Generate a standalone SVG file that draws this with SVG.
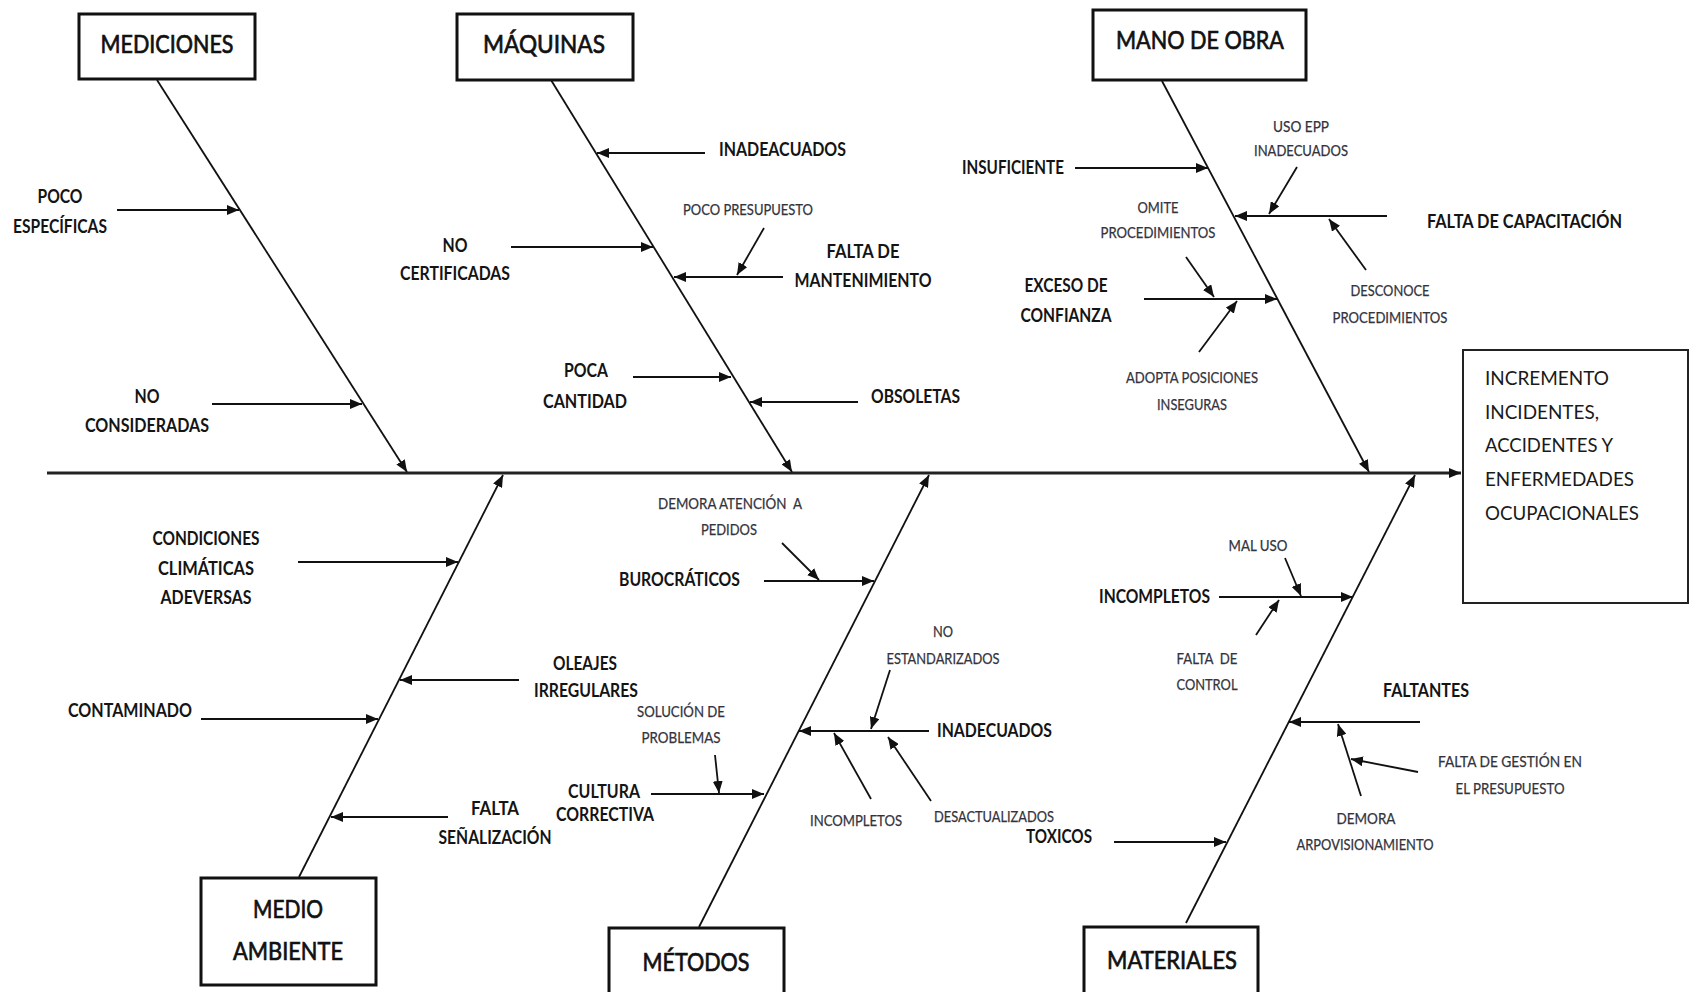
<svg xmlns="http://www.w3.org/2000/svg" width="1696" height="992" viewBox="0 0 1696 992">
  <defs>
    <marker id="arrow" viewBox="0 0 12 10" refX="12" refY="5" markerWidth="12" markerHeight="10" markerUnits="userSpaceOnUse" orient="auto">
      <path d="M0,0 L12,5 L0,10 z" fill="#111"/>
    </marker>
    <style>
      .box { fill: #fff; stroke: #111; stroke-width: 3; }
      .effect-box { fill: #fff; stroke: #222; stroke-width: 2; }
      .spine { stroke: #222; stroke-width: 3; fill: none; }
      .bone { stroke: #111; stroke-width: 1.8; fill: none; }
      .cause { stroke: #111; stroke-width: 2.2; fill: none; }
      .sub { stroke: #111; stroke-width: 1.8; fill: none; }
      .title { font-family: Lato, "Liberation Sans", sans-serif; font-size: 25px; fill: #111; stroke: #111; stroke-width: 0.7; text-anchor: middle; }
      .effect { font-family: Lato, "Liberation Sans", sans-serif; font-size: 19px; fill: #1a1a1a; }
      .lbl { font-family: Lato, "Liberation Sans", sans-serif; font-size: 19px; font-weight: bold; fill: #141414; }
      .sm { font-family: Lato, "Liberation Sans", sans-serif; font-size: 15px; fill: #33333d; stroke: #33333d; stroke-width: 0.25; }
      .mid { text-anchor: middle; }
    </style>
  </defs>

  <rect width="1696" height="992" fill="#fff"/>

  <!-- connectors: spine, category bones, cause and sub-cause arrows -->
  <g id="connectors">
    <line class="spine" x1="47" y1="473" x2="1461" y2="473" marker-end="url(#arrow)"/>

    <line class="bone" x1="157" y1="80" x2="407" y2="472" marker-end="url(#arrow)"/>
    <line class="bone" x1="551" y1="80" x2="792" y2="472" marker-end="url(#arrow)"/>
    <line class="bone" x1="1162" y1="81" x2="1369" y2="472" marker-end="url(#arrow)"/>
    <line class="bone" x1="299" y1="877" x2="503" y2="475" marker-end="url(#arrow)"/>
    <line class="bone" x1="699" y1="927" x2="929" y2="475" marker-end="url(#arrow)"/>
    <line class="bone" x1="1186" y1="923" x2="1415" y2="475" marker-end="url(#arrow)"/>

    <!-- MEDICIONES -->
    <line class="cause" x1="117" y1="210" x2="239" y2="210" marker-end="url(#arrow)"/>
    <line class="cause" x1="212" y1="404" x2="362" y2="404" marker-end="url(#arrow)"/>

    <!-- MÁQUINAS -->
    <line class="cause" x1="705" y1="153" x2="597" y2="153" marker-end="url(#arrow)"/>
    <line class="cause" x1="511" y1="247" x2="653" y2="247" marker-end="url(#arrow)"/>
    <line class="cause" x1="783" y1="277" x2="674" y2="277" marker-end="url(#arrow)"/>
    <line class="sub" x1="764" y1="228" x2="737" y2="275" marker-end="url(#arrow)"/>
    <line class="cause" x1="633" y1="377" x2="731" y2="377" marker-end="url(#arrow)"/>
    <line class="cause" x1="858" y1="402" x2="750" y2="402" marker-end="url(#arrow)"/>

    <!-- MANO DE OBRA -->
    <line class="cause" x1="1075" y1="168" x2="1208" y2="168" marker-end="url(#arrow)"/>
    <line class="cause" x1="1387" y1="216" x2="1235" y2="216" marker-end="url(#arrow)"/>
    <line class="sub" x1="1297" y1="167" x2="1269" y2="214" marker-end="url(#arrow)"/>
    <line class="sub" x1="1366" y1="270" x2="1329" y2="219" marker-end="url(#arrow)"/>
    <line class="cause" x1="1144" y1="299" x2="1277" y2="299" marker-end="url(#arrow)"/>
    <line class="sub" x1="1186" y1="257" x2="1214" y2="297" marker-end="url(#arrow)"/>
    <line class="sub" x1="1199" y1="352" x2="1237" y2="301" marker-end="url(#arrow)"/>

    <!-- MEDIO AMBIENTE -->
    <line class="cause" x1="298" y1="562" x2="458" y2="562" marker-end="url(#arrow)"/>
    <line class="cause" x1="519" y1="680" x2="400" y2="680" marker-end="url(#arrow)"/>
    <line class="cause" x1="201" y1="719" x2="378" y2="719" marker-end="url(#arrow)"/>
    <line class="cause" x1="448" y1="817" x2="331" y2="817" marker-end="url(#arrow)"/>

    <!-- MÉTODOS -->
    <line class="cause" x1="764" y1="581" x2="874" y2="581" marker-end="url(#arrow)"/>
    <line class="sub" x1="782" y1="543" x2="819" y2="580" marker-end="url(#arrow)"/>
    <line class="cause" x1="929" y1="731" x2="799" y2="731" marker-end="url(#arrow)"/>
    <line class="sub" x1="890" y1="670" x2="871" y2="729" marker-end="url(#arrow)"/>
    <line class="sub" x1="871" y1="799" x2="834" y2="733" marker-end="url(#arrow)"/>
    <line class="sub" x1="931" y1="801" x2="888" y2="737" marker-end="url(#arrow)"/>
    <line class="cause" x1="651" y1="794" x2="764" y2="794" marker-end="url(#arrow)"/>
    <line class="sub" x1="715" y1="755" x2="719" y2="793" marker-end="url(#arrow)"/>

    <!-- MATERIALES -->
    <line class="cause" x1="1219" y1="597" x2="1353" y2="597" marker-end="url(#arrow)"/>
    <line class="sub" x1="1285" y1="558" x2="1301" y2="596" marker-end="url(#arrow)"/>
    <line class="sub" x1="1256" y1="635" x2="1279" y2="600" marker-end="url(#arrow)"/>
    <line class="cause" x1="1420" y1="722" x2="1289" y2="722" marker-end="url(#arrow)"/>
    <line class="sub" x1="1361" y1="796" x2="1338" y2="724" marker-end="url(#arrow)"/>
    <line class="sub" x1="1418" y1="772" x2="1351" y2="759" marker-end="url(#arrow)"/>
    <line class="cause" x1="1114" y1="842" x2="1226" y2="842" marker-end="url(#arrow)"/>
  </g>

  <!-- category nodes -->
  <g id="mediciones">
    <rect class="box" x="79" y="14" width="176" height="65"/>
    <text class="title" x="167" y="53" textLength="133" lengthAdjust="spacingAndGlyphs">MEDICIONES</text>
  </g>
  <g id="maquinas">
    <rect class="box" x="457" y="14" width="176" height="66"/>
    <text class="title" x="544" y="53" textLength="122" lengthAdjust="spacingAndGlyphs">MÁQUINAS</text>
  </g>
  <g id="mano-de-obra">
    <rect class="box" x="1093" y="10" width="213" height="70"/>
    <text class="title" x="1200" y="49" textLength="168" lengthAdjust="spacingAndGlyphs">MANO DE OBRA</text>
  </g>
  <g id="medio-ambiente">
    <rect class="box" x="201" y="878" width="175" height="107"/>
    <text class="title" x="288" y="918" textLength="70" lengthAdjust="spacingAndGlyphs">MEDIO</text>
    <text class="title" x="288" y="960" textLength="110" lengthAdjust="spacingAndGlyphs">AMBIENTE</text>
  </g>
  <g id="metodos">
    <rect class="box" x="609" y="928" width="175" height="80"/>
    <text class="title" x="696" y="971" textLength="107" lengthAdjust="spacingAndGlyphs">MÉTODOS</text>
  </g>
  <g id="materiales">
    <rect class="box" x="1084" y="927" width="174" height="80"/>
    <text class="title" x="1172" y="969" textLength="130" lengthAdjust="spacingAndGlyphs">MATERIALES</text>
  </g>

  <!-- effect node -->
  <g id="efecto">
    <rect class="effect-box" x="1463" y="350" width="225" height="253"/>
    <text class="effect" x="1485" y="385" textLength="124" lengthAdjust="spacingAndGlyphs">INCREMENTO</text>
    <text class="effect" x="1485" y="419" textLength="114" lengthAdjust="spacingAndGlyphs">INCIDENTES,</text>
    <text class="effect" x="1485" y="452" textLength="128" lengthAdjust="spacingAndGlyphs">ACCIDENTES Y</text>
    <text class="effect" x="1485" y="486" textLength="149" lengthAdjust="spacingAndGlyphs">ENFERMEDADES</text>
    <text class="effect" x="1485" y="520" textLength="154" lengthAdjust="spacingAndGlyphs">OCUPACIONALES</text>
  </g>

  <!-- causes: MEDICIONES -->
  <g id="causas-mediciones">
    <text class="lbl mid" x="60" y="203" textLength="45" lengthAdjust="spacingAndGlyphs">POCO</text>
    <text class="lbl mid" x="60" y="233" textLength="94" lengthAdjust="spacingAndGlyphs">ESPECÍFICAS</text>
    <text class="lbl mid" x="147" y="403" textLength="25" lengthAdjust="spacingAndGlyphs">NO</text>
    <text class="lbl mid" x="147" y="432" textLength="124" lengthAdjust="spacingAndGlyphs">CONSIDERADAS</text>
  </g>

  <!-- causes: MÁQUINAS -->
  <g id="causas-maquinas">
    <text class="lbl" x="719" y="156" textLength="127" lengthAdjust="spacingAndGlyphs">INADEACUADOS</text>
    <text class="sm" x="683" y="215" textLength="130" lengthAdjust="spacingAndGlyphs">POCO PRESUPUESTO</text>
    <text class="lbl mid" x="455" y="252" textLength="25" lengthAdjust="spacingAndGlyphs">NO</text>
    <text class="lbl mid" x="455" y="280" textLength="110" lengthAdjust="spacingAndGlyphs">CERTIFICADAS</text>
    <text class="lbl mid" x="863" y="258" textLength="73" lengthAdjust="spacingAndGlyphs">FALTA DE</text>
    <text class="lbl mid" x="863" y="287" textLength="137" lengthAdjust="spacingAndGlyphs">MANTENIMIENTO</text>
    <text class="lbl mid" x="586" y="377" textLength="44" lengthAdjust="spacingAndGlyphs">POCA</text>
    <text class="lbl mid" x="585" y="408" textLength="84" lengthAdjust="spacingAndGlyphs">CANTIDAD</text>
    <text class="lbl" x="871" y="403" textLength="89" lengthAdjust="spacingAndGlyphs">OBSOLETAS</text>
  </g>

  <!-- causes: MANO DE OBRA -->
  <g id="causas-mano-de-obra">
    <text class="lbl" x="962" y="174" textLength="102" lengthAdjust="spacingAndGlyphs">INSUFICIENTE</text>
    <text class="sm mid" x="1301" y="132" textLength="56" lengthAdjust="spacingAndGlyphs">USO EPP</text>
    <text class="sm mid" x="1301" y="156" textLength="94" lengthAdjust="spacingAndGlyphs">INADECUADOS</text>
    <text class="lbl" x="1427" y="228" textLength="195" lengthAdjust="spacingAndGlyphs">FALTA DE CAPACITACIÓN</text>
    <text class="sm mid" x="1158" y="213" textLength="41" lengthAdjust="spacingAndGlyphs">OMITE</text>
    <text class="sm mid" x="1158" y="238" textLength="115" lengthAdjust="spacingAndGlyphs">PROCEDIMIENTOS</text>
    <text class="sm mid" x="1390" y="296" textLength="79" lengthAdjust="spacingAndGlyphs">DESCONOCE</text>
    <text class="sm mid" x="1390" y="323" textLength="115" lengthAdjust="spacingAndGlyphs">PROCEDIMIENTOS</text>
    <text class="lbl mid" x="1066" y="292" textLength="83" lengthAdjust="spacingAndGlyphs">EXCESO DE</text>
    <text class="lbl mid" x="1066" y="322" textLength="91" lengthAdjust="spacingAndGlyphs">CONFIANZA</text>
    <text class="sm mid" x="1192" y="383" textLength="132" lengthAdjust="spacingAndGlyphs">ADOPTA POSICIONES</text>
    <text class="sm mid" x="1192" y="410" textLength="70" lengthAdjust="spacingAndGlyphs">INSEGURAS</text>
  </g>

  <!-- causes: MEDIO AMBIENTE -->
  <g id="causas-medio-ambiente">
    <text class="lbl mid" x="206" y="545" textLength="107" lengthAdjust="spacingAndGlyphs">CONDICIONES</text>
    <text class="lbl mid" x="206" y="575" textLength="96" lengthAdjust="spacingAndGlyphs">CLIMÁTICAS</text>
    <text class="lbl mid" x="206" y="604" textLength="91" lengthAdjust="spacingAndGlyphs">ADEVERSAS</text>
    <text class="lbl mid" x="585" y="670" textLength="64" lengthAdjust="spacingAndGlyphs">OLEAJES</text>
    <text class="lbl mid" x="586" y="697" textLength="104" lengthAdjust="spacingAndGlyphs">IRREGULARES</text>
    <text class="lbl" x="68" y="717" textLength="124" lengthAdjust="spacingAndGlyphs">CONTAMINADO</text>
    <text class="lbl mid" x="495" y="815" textLength="48" lengthAdjust="spacingAndGlyphs">FALTA</text>
    <text class="lbl mid" x="495" y="844" textLength="113" lengthAdjust="spacingAndGlyphs">SEÑALIZACIÓN</text>
  </g>

  <!-- causes: MÉTODOS -->
  <g id="causas-metodos">
    <text class="sm mid" x="730" y="509" textLength="144" lengthAdjust="spacingAndGlyphs" xml:space="preserve">DEMORA ATENCIÓN  A</text>
    <text class="sm mid" x="729" y="535" textLength="56" lengthAdjust="spacingAndGlyphs">PEDIDOS</text>
    <text class="lbl" x="619" y="586" textLength="121" lengthAdjust="spacingAndGlyphs">BUROCRÁTICOS</text>
    <text class="sm mid" x="943" y="637" textLength="20" lengthAdjust="spacingAndGlyphs">NO</text>
    <text class="sm mid" x="943" y="664" textLength="113" lengthAdjust="spacingAndGlyphs">ESTANDARIZADOS</text>
    <text class="lbl" x="937" y="737" textLength="115" lengthAdjust="spacingAndGlyphs">INADECUADOS</text>
    <text class="sm mid" x="681" y="717" textLength="88" lengthAdjust="spacingAndGlyphs">SOLUCIÓN DE</text>
    <text class="sm mid" x="681" y="743" textLength="79" lengthAdjust="spacingAndGlyphs">PROBLEMAS</text>
    <text class="lbl mid" x="604" y="798" textLength="72" lengthAdjust="spacingAndGlyphs">CULTURA</text>
    <text class="lbl mid" x="605" y="821" textLength="98" lengthAdjust="spacingAndGlyphs">CORRECTIVA</text>
    <text class="sm mid" x="856" y="826" textLength="92" lengthAdjust="spacingAndGlyphs">INCOMPLETOS</text>
    <text class="sm mid" x="994" y="822" textLength="120" lengthAdjust="spacingAndGlyphs">DESACTUALIZADOS</text>
  </g>

  <!-- causes: MATERIALES -->
  <g id="causas-materiales">
    <text class="sm mid" x="1258" y="551" textLength="59" lengthAdjust="spacingAndGlyphs">MAL USO</text>
    <text class="lbl" x="1099" y="603" textLength="111" lengthAdjust="spacingAndGlyphs">INCOMPLETOS</text>
    <text class="sm mid" x="1207" y="664" textLength="61" lengthAdjust="spacingAndGlyphs" xml:space="preserve">FALTA  DE</text>
    <text class="sm mid" x="1207" y="690" textLength="61" lengthAdjust="spacingAndGlyphs">CONTROL</text>
    <text class="lbl" x="1383" y="697" textLength="86" lengthAdjust="spacingAndGlyphs">FALTANTES</text>
    <text class="sm mid" x="1510" y="767" textLength="144" lengthAdjust="spacingAndGlyphs">FALTA DE GESTIÓN EN</text>
    <text class="sm mid" x="1510" y="794" textLength="109" lengthAdjust="spacingAndGlyphs">EL PRESUPUESTO</text>
    <text class="sm mid" x="1366" y="824" textLength="59" lengthAdjust="spacingAndGlyphs">DEMORA</text>
    <text class="sm mid" x="1365" y="850" textLength="137" lengthAdjust="spacingAndGlyphs">ARPOVISIONAMIENTO</text>
    <text class="lbl" x="1026" y="843" textLength="66" lengthAdjust="spacingAndGlyphs">TOXICOS</text>
  </g>
</svg>
